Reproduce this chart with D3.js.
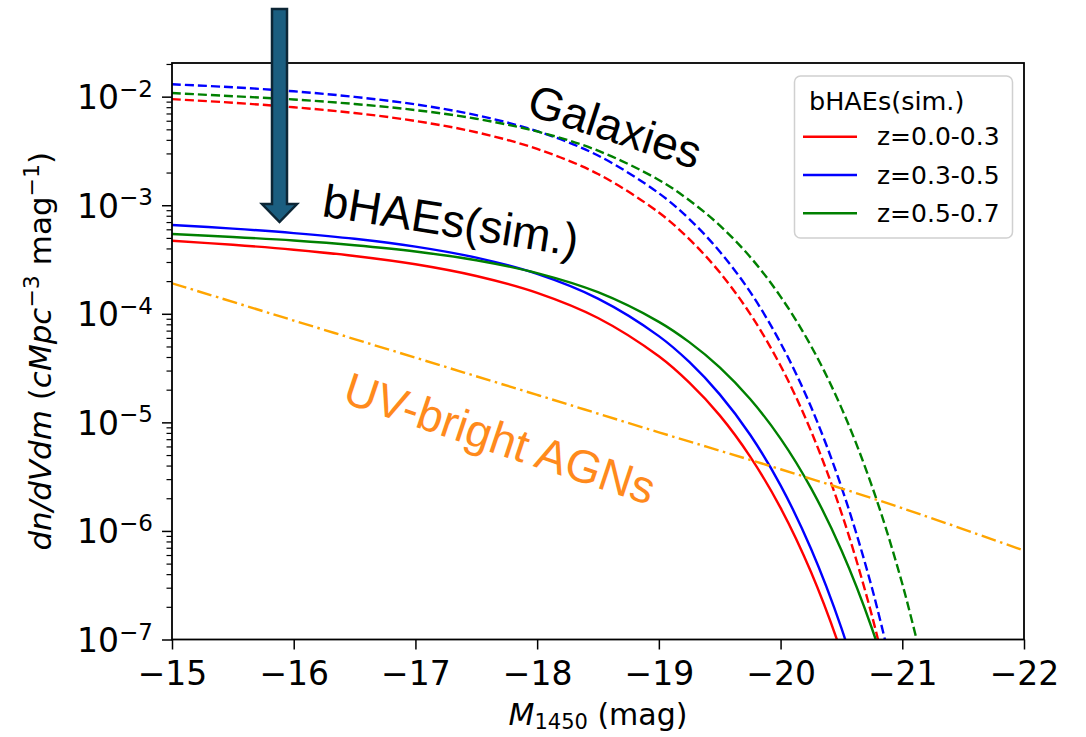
<!DOCTYPE html>
<html><head><meta charset="utf-8">
<script src="https://cdn.jsdelivr.net/npm/d3@7"></script>
<style>body{margin:0;background:#fff}svg{display:block}</style>
</head><body><svg id="c" width="1086" height="737"></svg>
<script>
// ---------- data ----------
const xTicks = [-15, -16, -17, -18, -19, -20, -21, -22];
const yTickExps = [-7, -6, -5, -4, -3, -2];
const legendTitle = "bHAEs(sim.)";
const legendLabels = ["z=0.0-0.3", "z=0.3-0.5", "z=0.5-0.7"];
const seriesColors = ["red", "blue", "green"];

// magnitude grid at which the curves were read
const gridM = [-15, -15.5, -16, -16.5, -17, -17.5, -18, -18.5, -19, -19.25, -19.5, -19.75, -20, -20.25, -20.5, -20.75, -21, -21.25];

// bHAEs (sim.) luminosity functions (solid)
const bhaePhi_z1 = [4.71e-4, 4.32e-4, 3.89e-4, 3.41e-4, 2.86e-4, 2.23e-4, 1.56e-4, 9.15e-5, 4.06e-5, 2.32e-5, 1.16e-5, 4.84e-6, 1.63e-6, 4.18e-7, 7.57e-8, 8.9e-9];
const bhaePhi_z2 = [6.58e-4, 6.09e-4, 5.54e-4, 4.91e-4, 4.16e-4, 3.29e-4, 2.33e-4, 1.38e-4, 6.23e-5, 3.60e-5, 1.81e-5, 7.69e-6, 2.63e-6, 6.84e-7, 1.27e-7, 1.52e-8];
const bhaePhi_z3 = [5.43e-4, 5.10e-4, 4.73e-4, 4.28e-4, 3.75e-4, 3.11e-4, 2.37e-4, 1.58e-4, 8.43e-5, 5.48e-5, 3.21e-5, 1.64e-5, 7.09e-6, 2.48e-6, 6.64e-7, 1.27e-7, 1.59e-8];

// Galaxy UV luminosity functions (dashed)
const galPhi_z1 = [9.49e-3, 8.79e-3, 7.99e-3, 7.07e-3, 5.97e-3, 4.70e-3, 3.30e-3, 1.94e-3, 8.56e-4, 4.87e-4, 2.41e-4, 9.99e-5, 3.32e-5, 8.33e-6, 1.47e-6, 1.67e-7, 1.08e-8];
const galPhi_z2 = [1.30e-2, 1.22e-2, 1.12e-2, 9.95e-3, 8.49e-3, 6.75e-3, 4.81e-3, 2.87e-3, 1.29e-3, 7.46e-4, 3.75e-4, 1.59e-4, 5.38e-5, 1.39e-5, 2.54e-6, 3.01e-7, 2.06e-8];
const galPhi_z3 = [1.08e-2, 1.01e-2, 9.42e-3, 8.56e-3, 7.52e-3, 6.26e-3, 4.78e-3, 3.18e-3, 1.71e-3, 1.11e-3, 6.52e-4, 3.34e-4, 1.44e-4, 5.06e-5, 1.36e-5, 2.60e-6, 3.26e-7, 2.40e-8];

// UV-bright AGN luminosity function (dash-dot)
const agnM = [-15, -16, -17, -18, -19, -20, -21, -22];
const agnPhi = [1.91e-4, 8.67e-5, 3.94e-5, 1.79e-5, 8.1e-6, 3.7e-6, 1.62e-6, 6.6e-7];

// ---------- layout ----------
const L = 172, R = 1024, T = 63, B = 639.5;
const svg = d3.select("#c");
const x = d3.scaleLinear().domain([-15, -22]).range([L, R]);
const y = d3.scaleLog().domain([1e-7, Math.pow(10, -1.69)]).range([B, T]);

svg.append("rect").attr("width", 1086).attr("height", 737).attr("fill", "#fff");
svg.append("defs").append("clipPath").attr("id", "clip")
  .append("rect").attr("x", L).attr("y", T).attr("width", R - L).attr("height", B - T);

const zip = (ms, ps) => ps.map((p, i) => [ms[i], p]);
const line = d3.line().x(d => x(d[0])).y(d => y(d[1])).curve(d3.curveCatmullRom.alpha(0.5));

const plot = svg.append("g").attr("clip-path", "url(#clip)");
const galSeries = [galPhi_z1, galPhi_z2, galPhi_z3].map(p => zip(gridM, p));
const bhaeSeries = [bhaePhi_z1, bhaePhi_z2, bhaePhi_z3].map(p => zip(gridM, p));
galSeries.forEach((s, i) => plot.append("path").attr("d", line(s)).attr("fill", "none")
  .attr("stroke", seriesColors[i]).attr("stroke-width", 2.4).attr("stroke-dasharray", "9,4"));
bhaeSeries.forEach((s, i) => plot.append("path").attr("d", line(s)).attr("fill", "none")
  .attr("stroke", seriesColors[i]).attr("stroke-width", 2.4));
plot.append("path").attr("d", line(zip(agnM, agnPhi))).attr("fill", "none")
  .attr("stroke", "orange").attr("stroke-width", 2.4).attr("stroke-dasharray", "15,4.5,2.5,4.5");

// ---------- axes ----------
const fontTick = "'DejaVu Sans', sans-serif";
const xAxis = svg.append("g").attr("transform", `translate(0,${B})`)
  .call(d3.axisBottom(x).tickValues(xTicks).tickSize(10).tickPadding(8)
    .tickFormat(d => "\u2212" + Math.abs(d)));
xAxis.select(".domain").remove();
xAxis.selectAll("line").attr("stroke", "#000").attr("stroke-width", 1.5);
xAxis.selectAll("text").attr("font-family", fontTick).attr("font-size", 33).attr("fill", "#000")
  .attr("dy", null).attr("y", 45.5);

const yMajor = yTickExps.map(e => Math.pow(10, e));
const yMinor = [];
yTickExps.forEach(e => { for (let k = 2; k <= 9; k++) { const v = k * Math.pow(10, e); if (v <= y.domain()[1]) yMinor.push(v); } });

const yAxisMinor = svg.append("g").attr("transform", `translate(${L},0)`)
  .call(d3.axisLeft(y).tickValues(yMinor).tickSize(5.5).tickFormat(""));
yAxisMinor.select(".domain").remove();
yAxisMinor.selectAll("line").attr("stroke", "#000").attr("stroke-width", 1.2);

const yAxis = svg.append("g").attr("transform", `translate(${L},0)`)
  .call(d3.axisLeft(y).tickValues(yMajor).tickSize(10).tickPadding(9).tickFormat(""));
yAxis.select(".domain").remove();
yAxis.selectAll("line").attr("stroke", "#000").attr("stroke-width", 1.5);
yAxis.selectAll(".tick").each(function (d) {
  const t = d3.select(this).select("text");
  t.attr("dy", null).attr("y", 12).attr("x", -19).attr("text-anchor", "end")
    .attr("font-family", fontTick).attr("fill", "#000");
  t.append("tspan").attr("font-size", 33).text("10");
  t.append("tspan").attr("font-size", 23).attr("dy", -12.5).text("\u2212" + Math.abs(Math.round(Math.log10(d))));
});

// frame
svg.append("rect").attr("x", L).attr("y", T).attr("width", R - L).attr("height", B - T)
  .attr("fill", "none").attr("stroke", "#000").attr("stroke-width", 1.8);

// axis labels
const xl = svg.append("text").attr("x", (L + R) / 2).attr("y", 725).attr("text-anchor", "middle")
  .attr("font-family", fontTick).attr("font-size", 30).attr("fill", "#000");
xl.append("tspan").attr("font-style", "italic").text("M");
xl.append("tspan").attr("font-size", 21).attr("dy", 4).text("1450");
xl.append("tspan").attr("dy", -4).text(" (mag)");

const yl = svg.append("text").attr("transform", `translate(51,${(T + B) / 2}) rotate(-90)`)
  .attr("text-anchor", "middle").attr("font-family", fontTick).attr("font-size", 31).attr("fill", "#000");
yl.append("tspan").attr("font-style", "italic").text("dn/dVdm");
yl.append("tspan").text(" (");
yl.append("tspan").attr("font-style", "italic").text("cMpc");
yl.append("tspan").attr("font-size", 22).attr("dy", -12).text("\u22123");
yl.append("tspan").attr("dy", 12).text(" mag");
yl.append("tspan").attr("font-size", 22).attr("dy", -12).text("\u22121");
yl.append("tspan").attr("dy", 12).text(")");

// ---------- annotations ----------
const fontAnn = "'Liberation Sans', Arial, sans-serif";
svg.append("text").attr("transform", "translate(525,114) rotate(18)")
  .attr("font-family", fontAnn).attr("font-size", 46).attr("fill", "#000").text("Galaxies");
svg.append("text").attr("transform", "translate(321,216) rotate(9)")
  .attr("font-family", fontAnn).attr("font-size", 46).attr("fill", "#000").text("bHAEs(sim.)");
svg.append("text").attr("transform", "translate(341,402) rotate(18.5)")
  .attr("font-family", fontAnn).attr("font-size", 46).attr("fill", "#ff8a1c").text("UV-bright AGNs");

// arrow
svg.append("path")
  .attr("d", "M272,9 L287,9 L287,204 L297,204 L279.5,222 L262,204 L272,204 Z")
  .attr("fill", "#1b5e80").attr("stroke", "#0c2636").attr("stroke-width", 2.5).attr("stroke-linejoin", "miter");

// ---------- legend ----------
const lg = svg.append("g");
lg.append("rect").attr("x", 794.5).attr("y", 76).attr("width", 218).attr("height", 162).attr("rx", 6)
  .attr("fill", "#fff").attr("fill-opacity", 0.8).attr("stroke", "#d0d0d0").attr("stroke-width", 1.5);
lg.append("text").attr("x", 809).attr("y", 110).attr("font-family", fontTick).attr("font-size", 25.5)
  .attr("fill", "#000").text(legendTitle);
legendLabels.forEach((lab, i) => {
  const yy = 136.7 + i * 38.3;
  lg.append("line").attr("x1", 803).attr("x2", 857).attr("y1", yy).attr("y2", yy)
    .attr("stroke", seriesColors[i]).attr("stroke-width", 2.4);
  lg.append("text").attr("x", 877).attr("y", yy + 8.7).attr("font-family", fontTick).attr("font-size", 25)
    .attr("fill", "#000").text(lab);
});
</script></body></html>
